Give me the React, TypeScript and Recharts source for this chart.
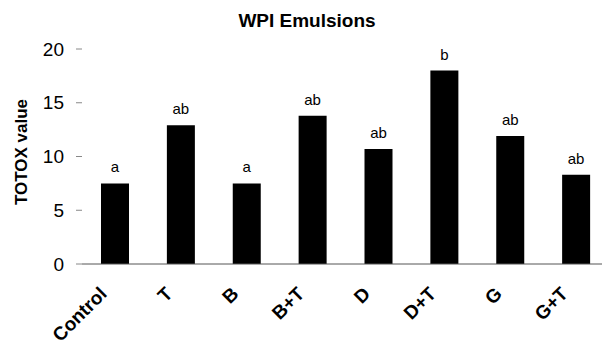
import React from "react";
import { BarChart, Bar, XAxis, YAxis, LabelList } from "recharts";

const categories = ["Control", "T", "B", "B+T", "D", "D+T", "G", "G+T"];
const totoxValues = [7.5, 12.9, 7.5, 13.8, 10.7, 18.0, 11.9, 8.3];
const groupLetters = ["a", "ab", "a", "ab", "ab", "b", "ab", "ab"];
const yTicks = [0, 5, 10, 15, 20];

const data = categories.map((name, i) => ({
  name,
  value: totoxValues[i],
  letter: groupLetters[i],
}));

const FONT = "'Liberation Sans', Arial, sans-serif";

// rotated category labels, anchored just left of the bar centre
const CategoryTick = ({ x, y, payload }: any) => (
  <g transform={`translate(${x},${y})`}>
    <text
      transform="translate(-7,23) rotate(-45)"
      textAnchor="end"
      fontFamily={FONT}
      fontWeight="bold"
      fontSize={19}
      fill="#000"
    >
      {payload.value}
    </text>
  </g>
);

export default function App() {
  return (
    <div
      style={{
        position: "fixed",
        left: 0,
        top: 0,
        width: 602,
        height: 347,
        overflow: "hidden",
        background: "#fff",
      }}
    >
      <BarChart
        width={610}
        height={347}
        data={data}
        margin={{ top: 49, right: 1, bottom: 0, left: 0 }}
      >
        <text
          x={307}
          y={27}
          textAnchor="middle"
          fontFamily={FONT}
          fontWeight="bold"
          fontSize={19}
          fill="#000"
        >
          WPI Emulsions
        </text>
        <text
          transform="translate(27,152) rotate(-90)"
          textAnchor="middle"
          fontFamily={FONT}
          fontWeight="bold"
          fontSize={17}
          fill="#000"
        >
          TOTOX value
        </text>
        <XAxis
          dataKey="name"
          height={83}
          tickLine={false}
          axisLine={{ stroke: "#555", strokeWidth: 1 }}
          interval={0}
          tick={<CategoryTick />}
        />
        <YAxis
          width={82}
          domain={[0, 20]}
          ticks={yTicks}
          axisLine={false}
          tickSize={6}
          tickMargin={12}
          tickLine={{ stroke: "#888" }}
          tick={{ fontFamily: FONT, fontSize: 19, fill: "#000" }}
        />
        <Bar dataKey="value" fill="#000" barSize={28} isAnimationActive={false}>
          <LabelList
            dataKey="letter"
            position="top"
            offset={11}
            fontFamily={FONT}
            fontSize={15}
            fill="#000"
          />
        </Bar>
      </BarChart>
    </div>
  );
}
